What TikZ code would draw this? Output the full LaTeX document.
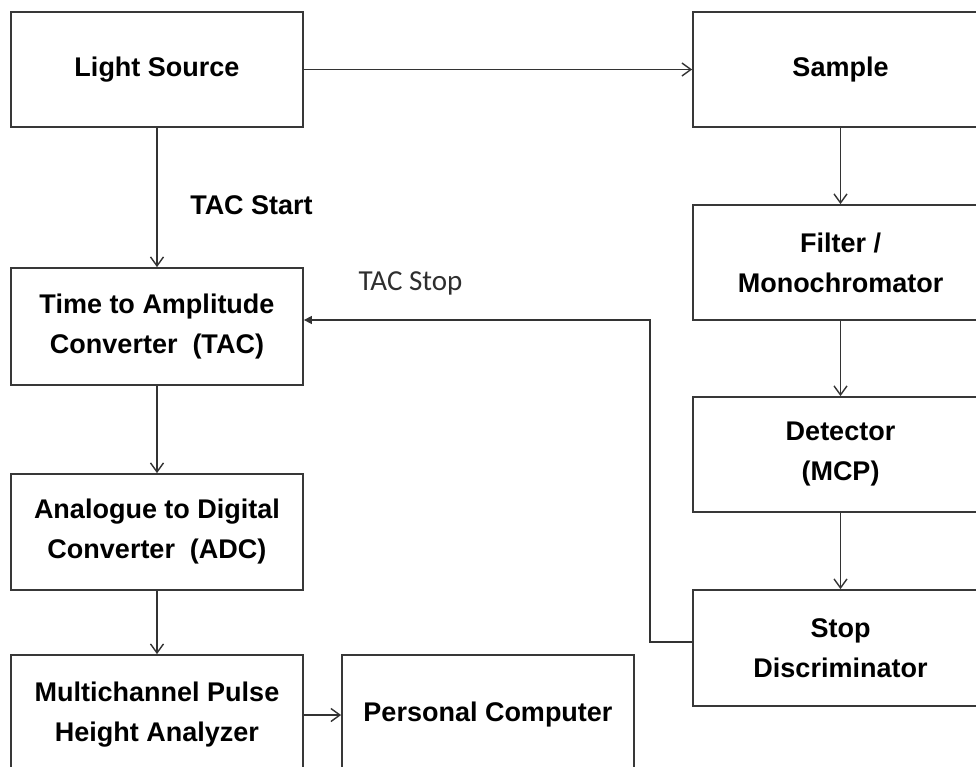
\documentclass[tikz,border=0pt]{standalone}
\usepackage{fontspec}
\setmainfont{Liberation Sans}
\newfontfamily\calib{Carlito}
\usetikzlibrary{arrows.meta}
\begin{document}
\begin{tikzpicture}[x=1pt,y=-1pt,
  box/.style={draw=black!78, line width=1.8pt, align=center, inner sep=0pt,
    font=\fontsize{27}{40}\selectfont\bfseries},
  lbox/.style={box, minimum width=292pt},
  rbox/.style={box, minimum width=295pt},
  conn/.style={draw=black!80, line width=1.4pt, -{Straight Barb[length=9pt,width=13pt,line width=1.4pt]}},
  fbconn/.style={draw=black!80, line width=1.4pt, -{Triangle[length=8pt,width=8pt]}},
  lbl/.style={font=\fontsize{27}{32}\selectfont\bfseries, inner sep=0pt},
  lbl2/.style={font=\calib\fontsize{29}{34}\selectfont, text=black!82, inner sep=0pt}
]
\useasboundingbox (0,0) rectangle (976,767);
\fill[white] (0,0) rectangle (976,767);
\clip (0,0) rectangle (976,767);

\node[lbox, minimum height=115pt] (light) at (157,69.5) {Light Source};
\node[lbox, minimum height=117pt] (tac) at (157,326.5) {Time to Amplitude\\Converter~~(TAC)};
\node[lbox, minimum height=116pt] (adc) at (157,532) {Analogue to Digital\\Converter~~(ADC)};
\node[lbox, minimum height=120pt] (mcpha) at (157,715) {Multichannel Pulse\\Height Analyzer};
\node[lbox, minimum height=120pt] (pc) at (488,715) {Personal Computer};

\node[rbox, minimum height=115pt] (sample) at (840.5,69.5) {Sample};
\node[rbox, minimum height=115pt] (filter) at (840.5,262.5) {Filter /\\Monochromator};
\node[rbox, minimum height=115pt] (det) at (840.5,454.5) {Detector\\(MCP)};
\node[rbox, minimum height=116pt] (stop) at (840.5,648) {Stop\\Discriminator};

\node[lbl] (tacstart) at (251.5,205) {TAC Start};
\node[lbl2] (tacstop) at (410.5,283) {TAC Stop};

\draw[conn] (light) -- (sample);
\draw[conn] (light) -- (tac);
\draw[conn] (tac) -- (adc);
\draw[conn] (adc) -- (mcpha);
\draw[conn] (mcpha) -- (pc);
\draw[conn] (sample) -- (filter);
\draw[conn] (filter) -- (det);
\draw[conn] (det) -- (stop);

\coordinate (c1) at (650,642);
\coordinate (c2) at (650,320);
\draw[fbconn] (stop.west |- c1) -- (c1) -- (c2) -- (tac.east |- c2);
\end{tikzpicture}
\end{document}
